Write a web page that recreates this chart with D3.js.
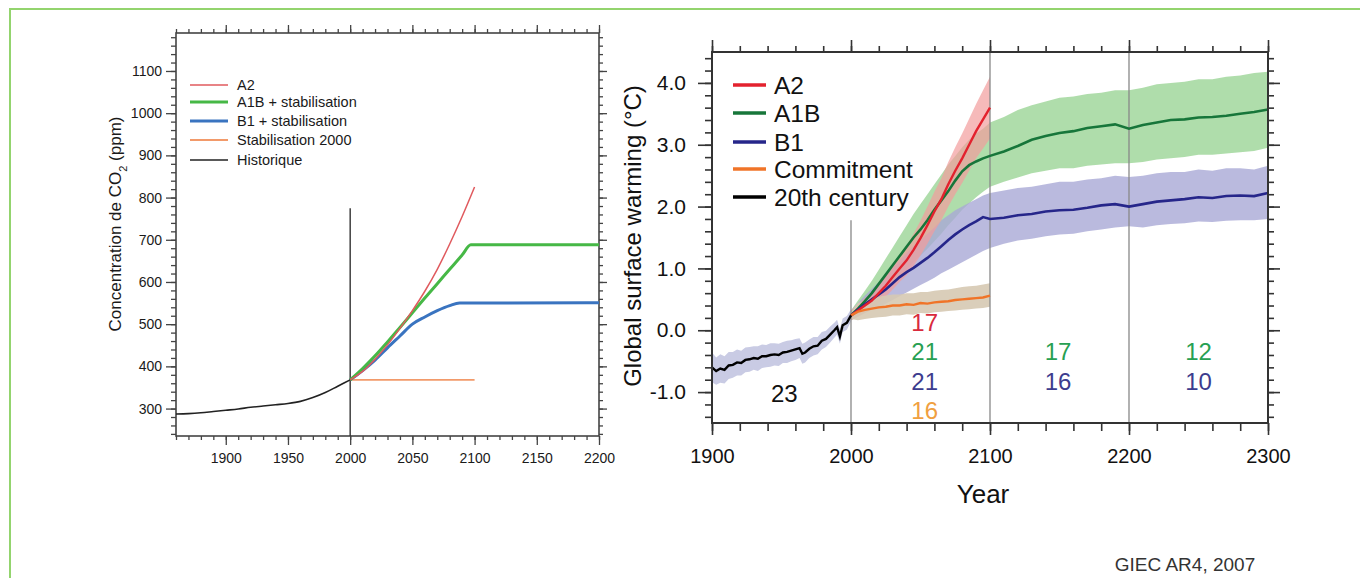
<!DOCTYPE html>
<html><head><meta charset="utf-8">
<script src="https://cdn.jsdelivr.net/npm/d3@7"></script>
<style>
html,body{margin:0;padding:0;background:#fff;}
svg{display:block;font-family:"Liberation Sans",Arial,Helvetica,sans-serif;}
</style></head>
<body>
<svg id="chart" width="1360" height="578"></svg>
<script>
// ---------- LEFT PANEL DATA (CO2 concentration, ppm) ----------
const leftXTicks = [1900, 1950, 2000, 2050, 2100, 2150, 2200];
const leftYTicks = [300, 400, 500, 600, 700, 800, 900, 1000, 1100];
const histYears = [1860,1870,1880,1890,1900,1910,1920,1930,1940,1950,1960,1970,1980,1990,2000];
const histCO2   = [287,288,290,293,296,299,303,306,309,312,317,326,338,353,368];
const a2Years   = [2000,2010,2020,2030,2040,2050,2060,2070,2080,2090,2100];
const a2CO2     = [368,388,417,451,490,532,578,630,690,755,825];
const a1bYears  = [2000,2010,2020,2030,2040,2050,2060,2070,2080,2090,2097,2200];
const a1bCO2    = [368,395,425,458,492,527,562,596,630,664,688,688];
const b1Years   = [2000,2010,2020,2030,2040,2050,2060,2070,2080,2088,2200];
const b1CO2     = [368,390,415,444,472,500,517,532,544,550,551];
const stabYears = [2000,2100];
const stabCO2   = [368,368];
const leftLegend = ["A2","A1B + stabilisation","B1 + stabilisation","Stabilisation 2000","Historique"];

// ---------- RIGHT PANEL DATA (global surface warming, °C) ----------
const rightXTicks = [1900, 2000, 2100, 2200, 2300];
const rightYTicks = [-1.0, 0.0, 1.0, 2.0, 3.0, 4.0];
const c20Years = [1900,1903,1906,1909,1912,1915,1918,1921,1924,1927,1930,1933,1936,1939,1942,1945,1948,1951,1954,1957,1960,1963,1965,1967,1970,1973,1976,1979,1982,1985,1988,1990,1992,1994,1997,2000];
const c20Mean  = [-0.60,-0.66,-0.62,-0.64,-0.57,-0.56,-0.52,-0.53,-0.48,-0.47,-0.45,-0.46,-0.42,-0.42,-0.40,-0.39,-0.40,-0.36,-0.35,-0.33,-0.31,-0.29,-0.38,-0.36,-0.30,-0.26,-0.25,-0.17,-0.14,-0.07,0.00,0.05,-0.10,0.08,0.12,0.24];
const c20Spread= [0.24,0.22,0.23,0.22,0.22,0.21,0.21,0.20,0.20,0.20,0.19,0.20,0.19,0.18,0.19,0.18,0.18,0.17,0.18,0.17,0.17,0.16,0.16,0.16,0.15,0.15,0.14,0.14,0.13,0.13,0.12,0.12,0.12,0.11,0.11,0.10];

const scenYears = [2000,2005,2010,2015,2020,2025,2030,2035,2040,2045,2050,2055,2060,2065,2070,2075,2080,2085,2090,2095,2100,
                   2110,2120,2130,2140,2150,2160,2170,2180,2190,2200,2210,2220,2230,2240,2250,2260,2270,2280,2290,2300];
const a1bMean = [0.24,0.35,0.47,0.60,0.75,0.90,1.05,1.20,1.35,1.50,1.63,1.78,1.95,2.10,2.25,2.42,2.57,2.67,2.73,2.78,2.82,
                 2.89,2.98,3.08,3.14,3.19,3.22,3.27,3.30,3.33,3.26,3.32,3.36,3.40,3.41,3.44,3.45,3.47,3.50,3.53,3.57];
const a1bLow  = [0.16,0.23,0.31,0.40,0.51,0.62,0.74,0.86,0.98,1.10,1.21,1.32,1.44,1.56,1.70,1.82,1.95,2.05,2.15,2.24,2.32,
                 2.40,2.47,2.54,2.58,2.62,2.62,2.66,2.68,2.70,2.70,2.72,2.76,2.78,2.80,2.84,2.84,2.86,2.88,2.90,2.95];
const a1bHigh = [0.32,0.48,0.64,0.80,0.98,1.16,1.34,1.52,1.70,1.88,2.04,2.20,2.36,2.52,2.68,2.82,2.96,3.08,3.18,3.26,3.36,
                 3.45,3.56,3.64,3.70,3.76,3.78,3.82,3.84,3.88,3.88,3.92,3.98,4.00,4.02,4.06,4.06,4.10,4.12,4.16,4.18];
const b1Mean  = [0.24,0.33,0.42,0.50,0.58,0.66,0.76,0.86,0.94,1.01,1.09,1.17,1.26,1.36,1.46,1.55,1.63,1.70,1.76,1.83,1.80,
                 1.82,1.86,1.88,1.92,1.94,1.95,1.98,2.02,2.04,2.00,2.04,2.08,2.10,2.12,2.15,2.14,2.17,2.18,2.17,2.22];
const b1Low   = [0.16,0.22,0.28,0.33,0.38,0.43,0.49,0.55,0.61,0.67,0.73,0.79,0.85,0.92,0.98,1.04,1.10,1.16,1.22,1.28,1.33,
                 1.40,1.45,1.48,1.52,1.55,1.56,1.60,1.63,1.66,1.68,1.66,1.70,1.72,1.73,1.76,1.75,1.77,1.78,1.78,1.80];
const b1High  = [0.32,0.44,0.56,0.67,0.78,0.89,1.01,1.13,1.25,1.36,1.46,1.56,1.66,1.78,1.86,1.94,2.00,2.06,2.12,2.18,2.22,
                 2.26,2.30,2.32,2.36,2.40,2.40,2.44,2.46,2.50,2.48,2.50,2.54,2.56,2.56,2.60,2.58,2.62,2.62,2.60,2.66];
const a2Mean  = [0.24,0.32,0.40,0.48,0.60,0.72,0.86,1.00,1.13,1.30,1.49,1.70,1.92,2.12,2.36,2.58,2.78,3.00,3.22,3.41,3.60];
const a2Low   = [0.16,0.22,0.28,0.34,0.44,0.54,0.66,0.78,0.89,1.04,1.21,1.40,1.60,1.78,2.00,2.20,2.38,2.58,2.78,2.94,3.10];
const a2High  = [0.32,0.42,0.52,0.62,0.76,0.90,1.06,1.22,1.37,1.56,1.77,2.00,2.24,2.46,2.72,2.96,3.18,3.42,3.66,3.88,4.10];
const comMean = [0.24,0.30,0.33,0.35,0.37,0.38,0.40,0.40,0.42,0.41,0.44,0.43,0.45,0.46,0.47,0.49,0.50,0.51,0.52,0.53,0.56];
const comLow  = [0.18,0.16,0.18,0.20,0.21,0.22,0.24,0.24,0.26,0.25,0.28,0.27,0.29,0.30,0.31,0.32,0.33,0.34,0.35,0.36,0.38];
const comHigh = [0.30,0.44,0.48,0.52,0.54,0.56,0.58,0.58,0.60,0.60,0.62,0.62,0.64,0.65,0.66,0.68,0.70,0.71,0.72,0.74,0.76];
const rightLegend = ["A2","A1B","B1","Commitment","20th century"];
// model counts annotated in each period
const annText  = ["17","21","21","16","23","17","16","12","10"];
const annYear  = [2053,2053,2053,2053,1952,2149,2149,2250,2250];
const annValue = [0.13,-0.34,-0.83,-1.29,-1.02,-0.34,-0.83,-0.34,-0.83];
const annColor = ["#d92a3c","#27a052","#3c3c8e","#f0a040","#111111","#27a052","#3c3c8e","#27a052","#3c3c8e"];

// ---------- DRAW ----------
const svg = d3.select("#chart");
svg.append("rect").attr("width",1360).attr("height",578).attr("fill","#fff");
svg.append("path").attr("d","M10,578V9H1360").attr("fill","none").attr("stroke","#93d46e").attr("stroke-width",2);

function pts(xs, ys){ return xs.map((x,i)=>[x, ys[i]]); }

// ===== LEFT PANEL =====
const L = svg.append("g");
const lx = d3.scaleLinear().domain([1860,2200]).range([176,599]);
const ly = d3.scaleLinear().domain([235,1190]).range([436,33]);
const axisCol = "#444";

function styleAxis(g, fs){
  g.select(".domain").remove();
  g.selectAll("line").attr("stroke",axisCol).attr("stroke-width",1.3);
  g.selectAll("text").attr("fill","#1a1a1a").style("font-size",fs+"px").style("font-family","'Liberation Sans',Arial,sans-serif");
}
const lxMinor = d3.range(1860,2201,10);
const lyMinor = d3.range(240,1190,20);
L.append("g").attr("transform","translate(0,436)").call(d3.axisBottom(lx).tickValues(lxMinor).tickSize(4).tickFormat("")).call(g=>styleAxis(g,14));
L.append("g").attr("transform","translate(0,436)").call(d3.axisBottom(lx).tickValues(leftXTicks).tickSize(9).tickPadding(8).tickFormat(d3.format("d"))).call(g=>styleAxis(g,14));
L.append("g").attr("transform","translate(0,33)").call(d3.axisTop(lx).tickValues(lxMinor).tickSize(4).tickFormat("")).call(g=>styleAxis(g,14));
L.append("g").attr("transform","translate(0,33)").call(d3.axisTop(lx).tickValues(leftXTicks).tickSize(8).tickFormat("")).call(g=>styleAxis(g,14));
L.append("g").attr("transform","translate(176,0)").call(d3.axisLeft(ly).tickValues(lyMinor).tickSize(5).tickFormat("")).call(g=>styleAxis(g,14));
L.append("g").attr("transform","translate(176,0)").call(d3.axisLeft(ly).tickValues(leftYTicks).tickSize(10).tickPadding(4).tickFormat(d3.format("d"))).call(g=>styleAxis(g,14));
L.append("g").attr("transform","translate(599,0)").call(d3.axisRight(ly).tickValues(lyMinor).tickSize(4).tickFormat("")).call(g=>styleAxis(g,14));
L.append("g").attr("transform","translate(599,0)").call(d3.axisRight(ly).tickValues(leftYTicks).tickSize(8).tickFormat("")).call(g=>styleAxis(g,14));
L.append("rect").attr("x",176).attr("y",33).attr("width",423).attr("height",403).attr("fill","none").attr("stroke",axisCol).attr("stroke-width",1.6);

// vertical marker at 2000
L.append("line").attr("x1",lx(2000)).attr("x2",lx(2000)).attr("y1",ly(775)).attr("y2",ly(235)).attr("stroke","#333").attr("stroke-width",1.4);

const lline = d3.line().x(d=>lx(d[0])).y(d=>ly(d[1])).curve(d3.curveMonotoneX);
const leftSeries = [
  {xs:stabYears, ys:stabCO2, c:"#f29a6a", w:1.8},
  {xs:b1Years,  ys:b1CO2,  c:"#3a74c0", w:3},
  {xs:a1bYears, ys:a1bCO2, c:"#46b846", w:3},
  {xs:a2Years,  ys:a2CO2,  c:"#e05a5e", w:1.5},
  {xs:histYears,ys:histCO2,c:"#222",    w:1.6}
];
leftSeries.forEach(s=>{
  L.append("path").datum(pts(s.xs,s.ys)).attr("d",lline).attr("fill","none").attr("stroke",s.c).attr("stroke-width",s.w);
});
// left legend
const leftLegCols = ["#e05a5e","#46b846","#3a74c0","#f29a6a","#222"];
const leftLegW = [1.6,3,3,1.8,1.6];
const leftLegY = [85,102,121,140,160];
leftLegend.forEach((t,i)=>{
  L.append("line").attr("x1",190).attr("x2",228).attr("y1",leftLegY[i]).attr("y2",leftLegY[i]).attr("stroke",leftLegCols[i]).attr("stroke-width",leftLegW[i]);
  L.append("text").attr("x",237).attr("y",leftLegY[i]).attr("dy","0.36em").style("font-size","14.5px").attr("fill","#1a1a1a").text(t);
});
// left y label
const lyl = L.append("text").attr("transform","translate(121,224) rotate(-90)").attr("text-anchor","middle").style("font-size","17px").attr("fill","#1a1a1a");
lyl.append("tspan").text("Concentration de CO");
lyl.append("tspan").attr("baseline-shift","sub").style("font-size","11px").text("2");
lyl.append("tspan").text(" (ppm)");

// ===== RIGHT PANEL =====
const R = svg.append("g");
const rx = d3.scaleLinear().domain([1900,2300]).range([712,1268]);
const ry = d3.scaleLinear().domain([-1.5,4.5]).range([423,52]);
const area = d3.area().x(d=>rx(d[0])).y0(d=>ry(d[1])).y1(d=>ry(d[2]));
const rline = d3.line().x(d=>rx(d[0])).y(d=>ry(d[1]));
function band(xs, lo, hi){ return xs.map((x,i)=>[x, lo[i], hi[i]]); }
const y2100 = scenYears.slice(0,21);

// bands
R.append("path").datum(band(c20Years, c20Mean.map((m,i)=>m-c20Spread[i]), c20Mean.map((m,i)=>m+c20Spread[i]))).attr("d",area).attr("fill","#c9cbe4");
R.append("path").datum(band(scenYears,a1bLow,a1bHigh)).attr("d",area).attr("fill","#a6d9a2").attr("fill-opacity",0.9);
R.append("path").datum(band(scenYears,b1Low,b1High)).attr("d",area).attr("fill","#a9a9d6").attr("fill-opacity",0.8);
R.append("path").datum(band(y2100,a2Low,a2High)).attr("d",area).attr("fill","#f29c9c").attr("fill-opacity",0.7);
R.append("path").datum(band(y2100,comLow,comHigh)).attr("d",area).attr("fill","#d6c9b2").attr("fill-opacity",0.9);

// vertical period lines
R.append("line").attr("x1",rx(2000)).attr("x2",rx(2000)).attr("y1",ry(1.78)).attr("y2",ry(-1.5)).attr("stroke","#888").attr("stroke-width",1.3);
[2100,2200].forEach(y=>R.append("line").attr("x1",rx(y)).attr("x2",rx(y)).attr("y1",ry(4.5)).attr("y2",ry(-1.5)).attr("stroke","#888").attr("stroke-width",1.3));

// lines
R.append("path").datum(pts(scenYears,a1bMean)).attr("d",rline).attr("fill","none").attr("stroke","#17763a").attr("stroke-width",2.6);
R.append("path").datum(pts(scenYears,b1Mean)).attr("d",rline).attr("fill","none").attr("stroke","#26268a").attr("stroke-width",2.6);
R.append("path").datum(pts(y2100,a2Mean)).attr("d",rline).attr("fill","none").attr("stroke","#e3222e").attr("stroke-width",2.4);
R.append("path").datum(pts(y2100,comMean)).attr("d",rline).attr("fill","none").attr("stroke","#f07428").attr("stroke-width",2.4);
R.append("path").datum(pts(c20Years,c20Mean)).attr("d",rline).attr("fill","none").attr("stroke","#000").attr("stroke-width",2.4);

// axes
const rCol = "#333";
function styleR(g, fs){
  g.select(".domain").remove();
  g.selectAll("line").attr("stroke",rCol).attr("stroke-width",1.6);
  g.selectAll("text").attr("fill","#111").style("font-size",fs+"px").style("font-family","'Liberation Sans',Arial,sans-serif");
}
const fmtY = v => d3.format(".1f")(v).replace("\u2212","-");
const rxMinor = d3.range(1900,2301,20);
const ryMinor = d3.range(-1.4,4.5,0.2);
R.append("g").attr("transform","translate(0,423)").call(d3.axisBottom(rx).tickValues(rxMinor).tickSize(8).tickFormat("")).call(g=>styleR(g,20));
R.append("g").attr("transform","translate(0,423)").call(d3.axisBottom(rx).tickValues(rightXTicks).tickSize(12).tickPadding(14).tickFormat(d3.format("d"))).call(g=>styleR(g,20));
R.append("g").attr("transform","translate(0,52)").call(d3.axisTop(rx).tickValues(rxMinor).tickSize(6).tickFormat("")).call(g=>styleR(g,20));
R.append("g").attr("transform","translate(0,52)").call(d3.axisTop(rx).tickValues(rightXTicks).tickSize(12).tickFormat("")).call(g=>styleR(g,20));
R.append("g").attr("transform","translate(712,0)").call(d3.axisLeft(ry).tickValues(ryMinor).tickSize(7).tickFormat("")).call(g=>styleR(g,20));
R.append("g").attr("transform","translate(712,0)").call(d3.axisLeft(ry).tickValues(rightYTicks).tickSize(14).tickPadding(12).tickFormat(fmtY)).call(g=>styleR(g,21));
R.append("g").attr("transform","translate(1268,0)").call(d3.axisRight(ry).tickValues(ryMinor).tickSize(6).tickFormat("")).call(g=>styleR(g,20));
R.append("g").attr("transform","translate(1268,0)").call(d3.axisRight(ry).tickValues(rightYTicks).tickSize(12).tickFormat("")).call(g=>styleR(g,20));
R.append("path").attr("d",`M712,${ry(-1.5)}V${ry(4.5)}H1268V${ry(-1.5)}Z`).attr("fill","none").attr("stroke",rCol).attr("stroke-width",2);

// legend
const rLegCols = ["#e3222e","#17763a","#26268a","#f07428","#000"];
const rLegY = [85,113,142,169,197];
rightLegend.forEach((t,i)=>{
  R.append("line").attr("x1",733).attr("x2",766).attr("y1",rLegY[i]).attr("y2",rLegY[i]).attr("stroke",rLegCols[i]).attr("stroke-width",3.5);
  R.append("text").attr("x",774).attr("y",rLegY[i]).attr("dy","0.36em").style("font-size","24.5px").attr("fill","#111").text(t);
});
// annotations
annText.forEach((t,i)=>{
  R.append("text").attr("x",rx(annYear[i])).attr("y",ry(annValue[i])).attr("dy","0.36em").attr("text-anchor","middle")
    .style("font-size","24px").attr("fill",annColor[i]).text(t);
});
// axis titles
R.append("text").attr("transform","translate(641,236) rotate(-90)").attr("text-anchor","middle").style("font-size","24px").attr("fill","#111").text("Global surface warming (°C)");
R.append("text").attr("x",983).attr("y",503).attr("text-anchor","middle").style("font-size","26px").attr("fill","#111").text("Year");

// source
svg.append("text").attr("x",1185).attr("y",571).attr("text-anchor","middle").style("font-size","19px").attr("fill","#333").text("GIEC AR4, 2007");
</script>
</body></html>
